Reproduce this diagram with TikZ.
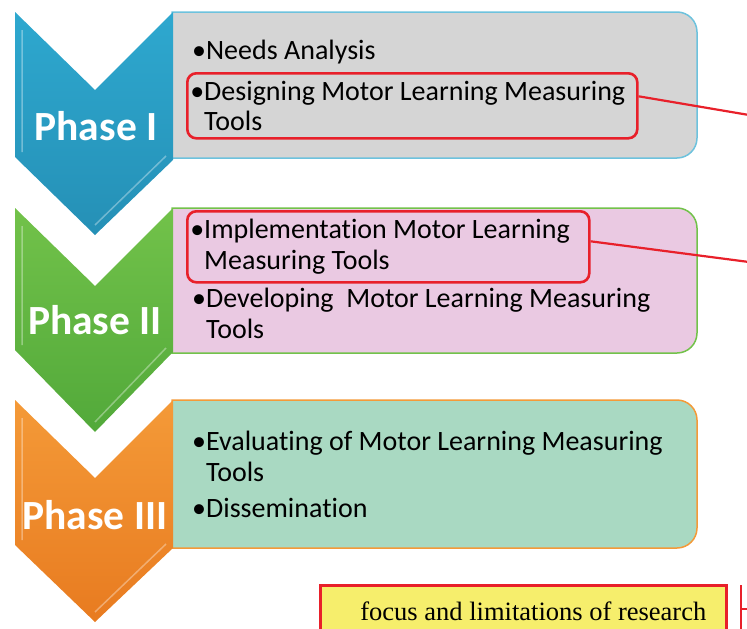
\documentclass[tikz,border=0pt]{standalone}
\usepackage{fontspec}
\setmainfont{Carlito}[Ligatures=NoCommon]
\newfontfamily\timesfont{Liberation Serif}
\usetikzlibrary{positioning,shapes}

\definecolor{phaseblue}{HTML}{2EA8CF}
\definecolor{phasebluedk}{HTML}{2590B6}
\definecolor{phasegreen}{HTML}{72C24A}
\definecolor{phasegreendk}{HTML}{52A93A}
\definecolor{phaseorange}{HTML}{F49A38}
\definecolor{phaseorangedk}{HTML}{E87B20}
\definecolor{boxgray}{HTML}{D5D5D5}
\definecolor{boxpink}{HTML}{EAC9E2}
\definecolor{boxmint}{HTML}{A9D9C2}
\definecolor{hired}{HTML}{E8202A}
\definecolor{focusyellow}{HTML}{F6EE6C}

\begin{document}
\begin{tikzpicture}[x=1pt,y=-1pt,
    item/.style={anchor=west,align=left,inner sep=0pt,font=\fontsize{28}{30.5}\selectfont},
    hilite/.style={draw=hired,line width=2.6pt,rounded corners=9pt,anchor=north west,
      align=flush left,inner xsep=3pt,inner ysep=0pt,font=\fontsize{28}{30.5}\selectfont},
    phaselabel/.style={text=white,font=\fontsize{41.5}{42}\selectfont\bfseries,inner sep=0pt},
    bevel/.style={draw=white,opacity=0.35,line width=1.5pt},
    redline/.style={hired,line width=2.2pt}]
    \useasboundingbox (0,0) rectangle (747,629);

    % boxes behind the chevrons
    \draw[fill=boxgray,draw=phaseblue!70,line width=1.5pt] (172,12) [rounded corners=20pt] -- (697,12) -- (697,158) [sharp corners] -- (172,158) -- cycle;
    \draw[fill=boxpink,draw=phasegreen,line width=1.5pt] (172,208) [rounded corners=20pt] -- (697,208) -- (697,353) [sharp corners] -- (172,353) -- cycle;
    \draw[fill=boxmint,draw=phaseorange,line width=1.5pt] (172,400) [rounded corners=20pt] -- (697,400) -- (697,548) [sharp corners] -- (172,548) -- cycle;

    % chevrons
    \shade[top color=phaseblue,bottom color=phasebluedk] (15,12) -- (95,90) -- (173,12) -- (173,160) -- (95,235) -- (15,157) -- cycle;
    \shade[top color=phasegreen,bottom color=phasegreendk] (15,208) -- (95,286) -- (173,208) -- (173,352) -- (95,432) -- (15,350) -- cycle;
    \shade[top color=phaseorange,bottom color=phaseorangedk] (15,400) -- (95,478) -- (173,400) -- (173,548) -- (95,622) -- (15,545) -- cycle;
    \draw[bevel] (22,30) -- (22,152) (166,156) -- (95,225);
    \draw[bevel] (22,226) -- (22,345) (166,348) -- (95,422);
    \draw[bevel] (22,418) -- (22,540) (166,544) -- (95,612);

    % label
    \node[phaselabel] (phase1) at (96,126) {Phase I};
    \node[phaselabel] (phase2) at (95,320) {Phase II};
    \node[phaselabel] (phase3) at (95,515) {Phase III};

    \node[item] (needs) at (192,52) {\textbullet Needs Analysis};
    \node[hilite,text width=444pt,minimum height=65pt] (design) at (186,72)
      {\textbullet Designing Motor Learning Measuring\\\phantom{\textbullet}Tools};

    \node[hilite,text width=396pt,minimum height=71pt] (implement) at (186,210)
      {\textbullet Implementation Motor Learning\\\phantom{\textbullet}Measuring Tools};
    \node[item] (develop) at (192,313.5)
      {\textbullet Developing\ \ Motor Learning Measuring\\\phantom{\textbullet}Tools};

    \node[item] (evaluate) at (192,456.5)
      {\textbullet Evaluating of Motor Learning Measuring\\\phantom{\textbullet}Tools};
    \node[item] (dissem) at (192,508) {\textbullet Dissemination};

    \node[draw=hired,line width=2.6pt,fill=focusyellow,minimum width=406pt,minimum height=62pt,
      anchor=north west,font=\timesfont\fontsize{26.5}{28}\selectfont] (focus) at (319,584)
      {\raisebox{10pt}{\hspace*{20pt}focus and limitations of research}};

    \coordinate (out1) at (749,115);
    \coordinate (out2) at (749,262);
    \coordinate (bar1) at (741,585);
    \coordinate (bar2) at (741,640);
    \coordinate (tick1) at (741,609);
    \coordinate (tick2) at (749,609);

    \draw[redline] ([yshift=9.5pt]design.east) -- (out1);
    \draw[redline] ([yshift=5.5pt]implement.east) -- (out2);
    \foreach \from/\to in {bar1/bar2,tick1/tick2}
    \draw[redline] (\from)--(\to);

  \end{tikzpicture}
\end{document}
